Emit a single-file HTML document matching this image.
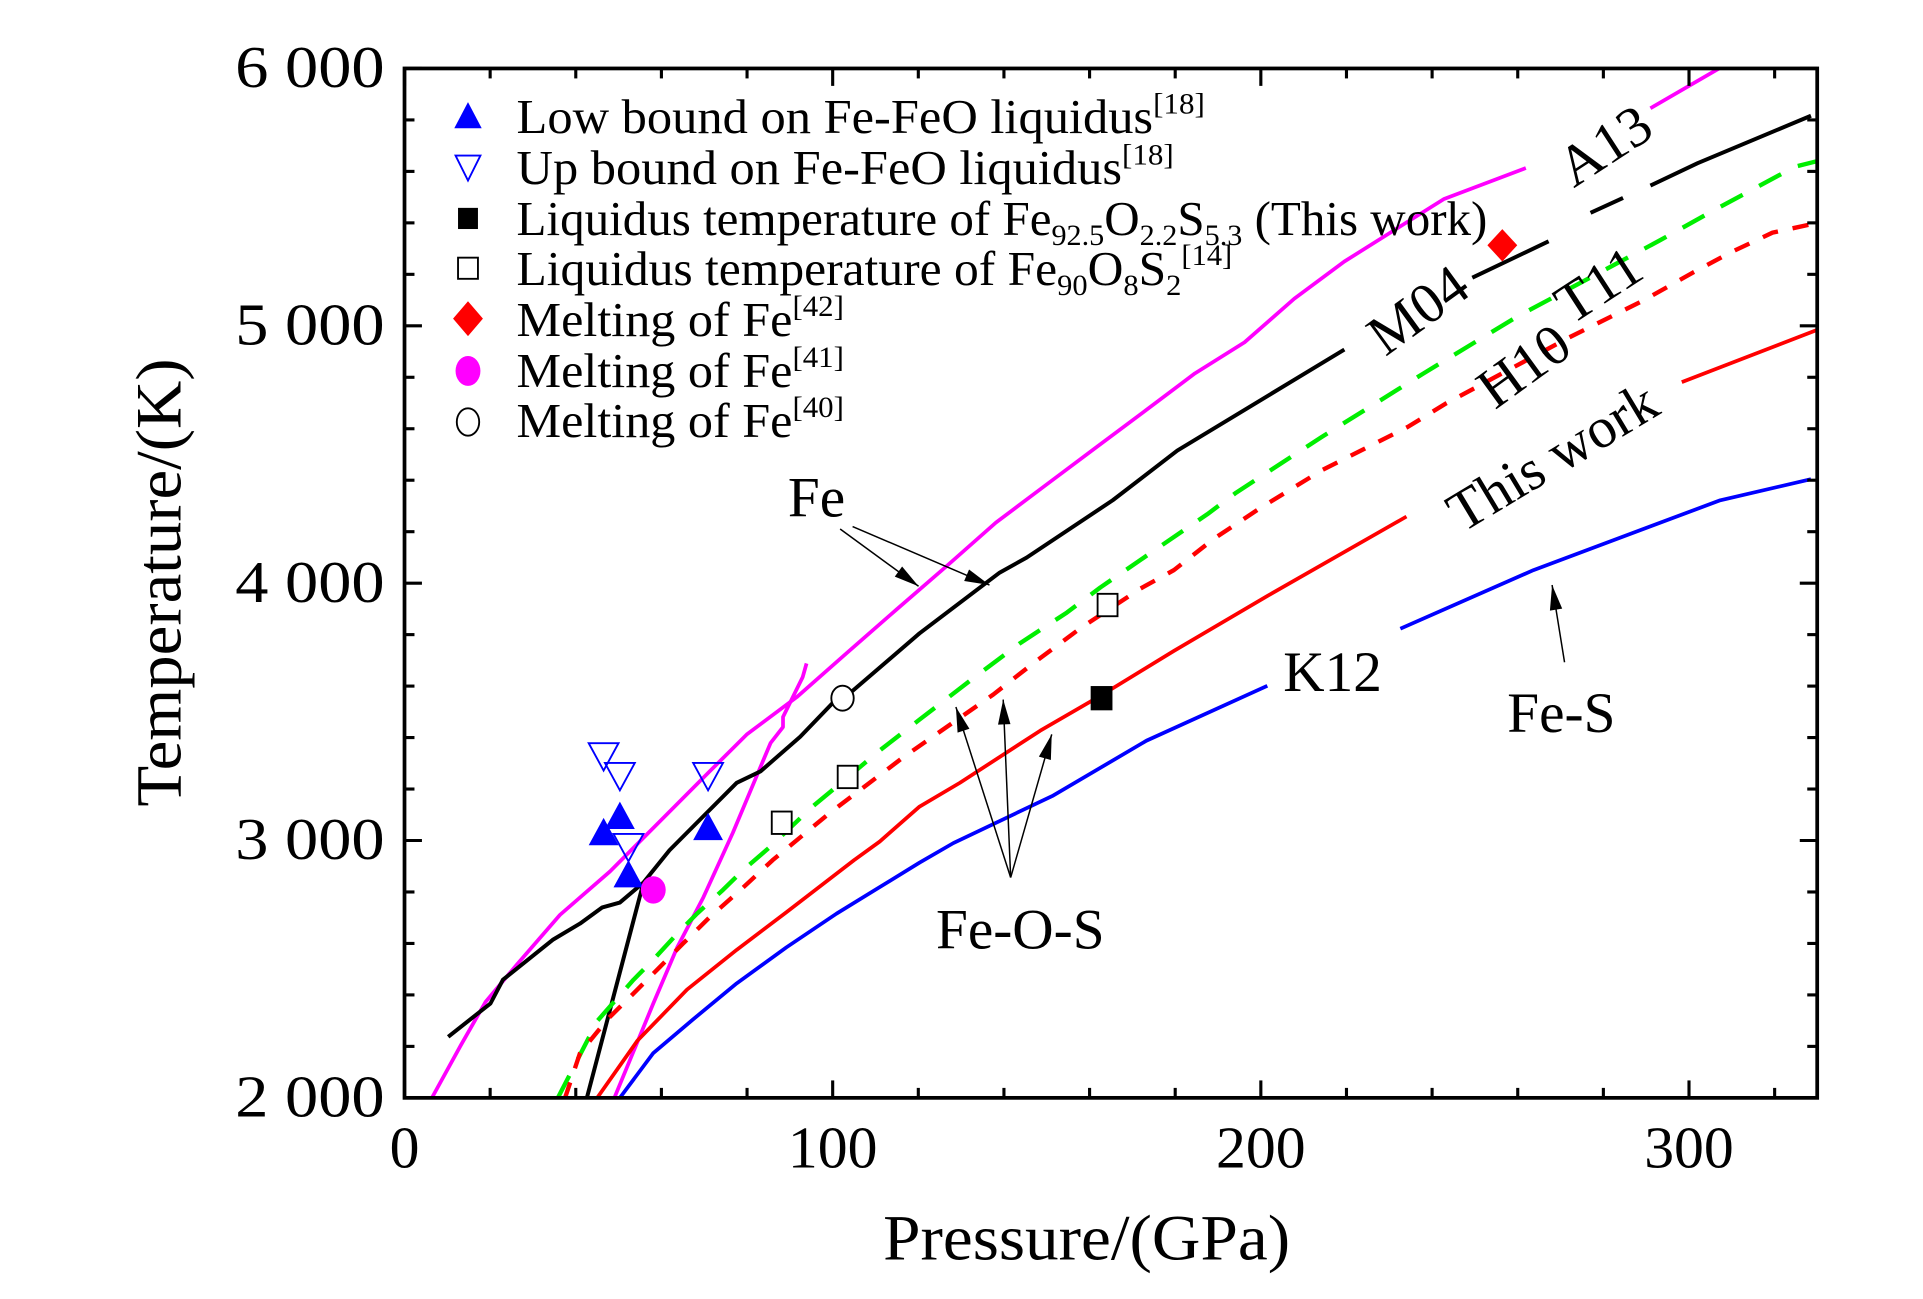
<!DOCTYPE html>
<html><head><meta charset="utf-8"><style>
html,body{margin:0;padding:0;background:#fff;}
svg{display:block;font-family:"Liberation Serif",serif;}
</style></head><body>
<svg id="chart" width="1923" height="1299" viewBox="0 0 1545 1043.6" preserveAspectRatio="none" xmlns="http://www.w3.org/2000/svg">
<rect x="0" y="0" width="1545" height="1044" fill="#fff"/>
<g id="plot"></g>
<g id="axes"></g>
<g id="legend">
 <polygon points="376,82 365,103 387,103" fill="#0000ff"/>
 <text x="415" y="107" font-size="39" textLength="553" lengthAdjust="spacingAndGlyphs">Low bound on Fe-FeO liquidus<tspan font-size="24" dy="-16">[18]</tspan></text>
 <polygon points="366,125 386,125 376,145" fill="none" stroke="#0000ff" stroke-width="1.5"/>
 <text x="415" y="148" font-size="39" textLength="528" lengthAdjust="spacingAndGlyphs">Up bound on Fe-FeO liquidus<tspan font-size="24" dy="-16">[18]</tspan></text>
 <rect x="368" y="167" width="16" height="17" fill="#000"/>
 <text x="415" y="189" font-size="39" textLength="780" lengthAdjust="spacingAndGlyphs">Liquidus temperature of Fe<tspan font-size="24" dy="8">92.5</tspan><tspan dy="-8">O</tspan><tspan font-size="24" dy="8">2.2</tspan><tspan dy="-8">S</tspan><tspan font-size="24" dy="8">5.3</tspan><tspan dy="-8"> (This work)</tspan></text>
 <rect x="368" y="207" width="16" height="17" fill="none" stroke="#000" stroke-width="1.5"/>
 <text x="415" y="229" font-size="39" textLength="575" lengthAdjust="spacingAndGlyphs">Liquidus temperature of Fe<tspan font-size="24" dy="8">90</tspan><tspan dy="-8">O</tspan><tspan font-size="24" dy="8">8</tspan><tspan dy="-8">S</tspan><tspan font-size="24" dy="8">2</tspan><tspan font-size="24" dy="-24">[14]</tspan></text>
 <polygon points="376,242 388,256 376,270 364,256" fill="#ff0000"/>
 <text x="415" y="270" font-size="39" textLength="263" lengthAdjust="spacingAndGlyphs">Melting of Fe<tspan font-size="24" dy="-16">[42]</tspan></text>
 <ellipse cx="376" cy="298" rx="10" ry="12" fill="#ff00ff"/>
 <text x="415" y="311" font-size="39" textLength="263" lengthAdjust="spacingAndGlyphs">Melting of Fe<tspan font-size="24" dy="-16">[41]</tspan></text>
 <ellipse cx="376" cy="339" rx="9" ry="11" fill="none" stroke="#000" stroke-width="1.5"/>
 <text x="415" y="351" font-size="39" textLength="263" lengthAdjust="spacingAndGlyphs">Melting of Fe<tspan font-size="24" dy="-16">[40]</tspan></text>
</g>
<g id="annot" font-size="46">
 <text x="633" y="415">Fe</text>
 <text x="752" y="762">Fe-O-S</text>
 <text x="1031" y="555">K12</text>
 <text x="1211" y="588">Fe-S</text>
 <text x="1290" y="132" text-anchor="middle" transform="rotate(-33 1290 118)">A13</text>
 <text x="1140" y="264" text-anchor="middle" transform="rotate(-36 1140 250)">M04</text>
 <text x="1285" y="244" text-anchor="middle" transform="rotate(-33 1285 230)">T11</text>
 <text x="1225" y="309" text-anchor="middle" transform="rotate(-36 1225 295)">H10</text>
 <text x="1248" y="382" text-anchor="middle" transform="rotate(-31 1248 368)">This work</text>
</g>
</svg>
<script>
// ---- data ----
const a13P=[6.4,13.1,18.9,26.2,36.3,48.0,59.6,71.2,79.9,91.6,103.2,114.8,126.5,138.1,149.7,161.3,173.0,184.6,196.2,207.8,219.5,231.1,242.7,261.9,null,291,307];
const a13T=[2000,2203,2372,2517,2711,2880,3074,3267,3412,3557,3727,3896,4065,4235,4380,4525,4670,4815,4936,5105,5250,5371,5492,5613,null,5845,6000];
const m04P=[10.2,20.1,23.0,34.6,41.0,46.2,50.3,55.8,61.9,68.9,77.6,83.1,92.4,100,102.3,120.3,139,145.3,165.4,180.5,219.5,null,249.4,267.2,null,277,284.6,null,291,302,328.5];
const m04T=[2237,2367,2459,2614,2677,2740,2759,2837,2962,3079,3224,3268,3403,3534,3548,3805,4041,4099,4322,4515,4908,null,5187,5328,null,5439,5497,null,5545,5632,5816];
const feoP=[42.6,55.8];
const feoT=[2000,2837];
const fe41LineP=[49.0,58.1,63.7,69.8,76.7,85.5,88.4,88.4,93.0,93.9];
const fe41LineT=[2000,2367,2585,2779,3030,3379,3441,3480,3635,3688];
const t11P=[35.8,45.1,53.5,58.1,63.7,68.3,74.4,79.1,85.5,95.3,100.9,111,120.3,132.8,143.6,154.7,162.5,176.5,187.5,194.2,214.2,238,259.6,293.3,305.8,324.7,330];
const t11T=[2000,2300,2459,2537,2638,2716,2808,2885,2977,3132,3209,3350,3470,3630,3765,3886,3983,4143,4268,4351,4568,4815,5033,5333,5449,5618,5640];
const h10P=[37.5,41,47.4,53.5,59.6,65.1,71.2,78.5,86,99.4,116.6,137.5,146.8,157.8,171.8,179.7,189,199.7,214.2,234.3,243.3,272,289.5,300.9,309.6,319.5,330];
const h10T=[2000,2174,2305,2406,2508,2600,2701,2808,2924,3108,3325,3567,3688,3824,3978,4051,4172,4290,4438,4607,4699,4955,5100,5207,5284,5362,5400];
const twP=[45,54.4,66,77.6,89.2,105,111,120.3,129.7,148.5,162.5,179.7,201.5,234,null,298.3,330];
const twT=[2000,2222,2421,2575,2721,2924,2996,3132,3224,3427,3562,3737,3950,4259,null,4781,4985];
const k12P=[50.3,58.1,67.4,77.6,89.2,100.9,120.3,128.2,151.5,173.3,201.5,null,232.6,263.7,307.3,328.5];
const k12T=[2000,2174,2305,2445,2585,2716,2914,2990,3175,3388,3601,null,3823,4051,4322,4404];
const lowBoundP=[46.5,50.3,52.3,70.9];
const lowBoundT=[3030,3093,2866,3050];
const upBoundP=[46.5,50.3,52.3,70.9];
const upBoundT=[3330,3253,2977,3253];
const fe90P=[88.1,103.5,164.2];
const fe90T=[3069,3247,3915];
const thisWorkPtP=[162.8];
const thisWorkPtT=[3553];
const fe42P=[256.4];const fe42T=[5313];
const fe41P=[58.1];const fe41T=[2808];
const fe40P=[102.3];const fe40T=[3553];
const xTicks=[0,100,200,300];
const yTicks=[2000,3000,4000,5000,6000];
const xTickLabels=["0","100","200","300"];
const yTickLabels=["2 000","3 000","4 000","5 000","6 000"];
// ---- scales ----
const X0=325,X1=1460,Y0=882,Y1=55;
function xS(p){return X0+p*3.44;}
function yS(t){return Y1+(6000-t)*0.20675;}
const NS="http://www.w3.org/2000/svg";
const plot=document.getElementById('plot');
const axes=document.getElementById('axes');
function mk(tag,attrs,parent){const e=document.createElementNS(NS,tag);for(const k in attrs)e.setAttribute(k,attrs[k]);parent.appendChild(e);return e;}
const clip=mk('clipPath',{id:'cp'},plot);mk('rect',{x:X0,y:Y1,width:X1-X0,height:Y0-Y1},clip);
const g=mk('g',{'clip-path':'url(#cp)'},plot);
function pathD(P,T){let d='',m=true;for(let i=0;i<P.length;i++){if(P[i]===null){m=true;continue;}d+=(m?'M':'L')+xS(P[i]).toFixed(1)+','+yS(T[i]).toFixed(1);m=false;}return d;}
function line(P,T,color,w,dash,name){const e=mk('path',{d:pathD(P,T),fill:'none',stroke:color,'stroke-width':w,'stroke-linejoin':'round'},g);if(dash)e.setAttribute('stroke-dasharray',dash);

}
line(a13P,a13T,'#ff00ff',3,null,'a13-fe-melting-curve');
line(fe41LineP,fe41LineT,'#ff00ff',3,null,'fe-feo-magenta-curve');
line(m04P,m04T,'#000',3.2,null,'m04-fe-melting-curve');
line(feoP,feoT,'#000',3.2,null,'fe-feo-black-curve');
line(t11P,t11T,'#00ee00',3.5,'20,15','t11-fe-o-s-curve');
line(h10P,h10T,'#ff0000',3.5,'13,12','h10-fe-o-s-curve');
line(twP,twT,'#ff0000',3,null,'this-work-fe-o-s-curve');
line(k12P,k12T,'#0000ff',3,null,'k12-fe-s-curve');
// markers
const mg=mk('g',{},plot);
function tri(P,T,up,name){for(let i=0;i<P.length;i++){const x=xS(P[i]),y=yS(T[i]);const pts=up?`${x},${y-12} ${x-12},${y+10} ${x+12},${y+10}`:`${x-12},${y-10} ${x+12},${y-10} ${x},${y+12}`;
const e=mk('polygon',{points:pts,fill:up?'#0000ff':'#fff','fill-opacity':up?1:0,stroke:'#0000ff','stroke-width':up?0:1.5},mg);

}}
tri(lowBoundP,lowBoundT,true,'low-bound-point');
tri(upBoundP,upBoundT,false,'up-bound-point');
function sq(P,T,fill,name){for(let i=0;i<P.length;i++){const e=mk('rect',{x:xS(P[i])-8,y:yS(T[i])-9,width:16,height:18,fill:fill,stroke:'#000','stroke-width':1.5},mg);

}}
sq(fe90P,fe90T,'#fff','fe90-liquidus-point');
sq(thisWorkPtP,thisWorkPtT,'#000','this-work-liquidus-point');
for(let i=0;i<fe42P.length;i++){const x=xS(fe42P[i]),y=yS(fe42T[i]);const e=mk('polygon',{points:`${x},${y-13} ${x+12},${y} ${x},${y+13} ${x-12},${y}`,fill:'#ff0000'},mg);

}
for(let i=0;i<fe41P.length;i++){const e=mk('ellipse',{cx:xS(fe41P[i]),cy:yS(fe41T[i]),rx:10,ry:11,fill:'#ff00ff'},mg);

}
for(let i=0;i<fe40P.length;i++){const e=mk('ellipse',{cx:xS(fe40P[i]),cy:yS(fe40T[i]),rx:9,ry:10,fill:'#fff',stroke:'#000','stroke-width':1.5},mg);

}
// arrows
const ag=mk('g',{stroke:'#000','stroke-width':1.2,fill:'#000'},plot);
function arrow(x1,y1,x2,y2,name){mk('line',{x1:x1,y1:y1,x2:x2,y2:y2},ag);const a=Math.atan2(y2-y1,x2-x1),L=20,W=5;
const e=mk('polygon',{points:`${x2},${y2} ${x2-L*Math.cos(a)+W*Math.sin(a)},${y2-L*Math.sin(a)-W*Math.cos(a)} ${x2-L*Math.cos(a)-W*Math.sin(a)},${y2-L*Math.sin(a)+W*Math.cos(a)}`,stroke:'none'},ag);

}
arrow(675,425,738,471,'fe-arrow-1');arrow(685,423,795,470,'fe-arrow-2');
arrow(812,705,768,568,'fe-o-s-arrow-1');arrow(812,705,806,562,'fe-o-s-arrow-2');arrow(812,705,845,590,'fe-o-s-arrow-3');
arrow(1257,532,1247,470,'fe-s-arrow');
// axes frame
const fr=mk('rect',{x:X0,y:Y1,width:X1-X0,height:Y0-Y1,fill:'none',stroke:'#000','stroke-width':3},axes);


for(let p=0;p<=330;p+=20){const x=xS(p),maj=(p%100===0),l=maj?14:8;
mk('line',{x1:x,y1:Y0,x2:x,y2:Y0-l,stroke:'#000','stroke-width':2.5},axes);
mk('line',{x1:x,y1:Y1,x2:x,y2:Y1+l,stroke:'#000','stroke-width':2.5},axes);}
for(let t=2000;t<=6000;t+=200){const y=yS(t),maj=(t%1000===0),l=maj?14:8;
mk('line',{x1:X0,y1:y,x2:X0+l,y2:y,stroke:'#000','stroke-width':2.5},axes);
mk('line',{x1:X1,y1:y,x2:X1-l,y2:y,stroke:'#000','stroke-width':2.5},axes);}
for(let i=0;i<xTicks.length;i++){const e=mk('text',{x:xS(xTicks[i]),y:938,'font-size':48,'text-anchor':'middle'},axes);e.textContent=xTickLabels[i];

}
for(let i=0;i<yTicks.length;i++){const e=mk('text',{x:309,y:yS(yTicks[i])+15,'font-size':48,'text-anchor':'end',textLength:120,lengthAdjust:'spacingAndGlyphs'},axes);e.textContent=yTickLabels[i];

}
const xt=mk('text',{x:873,y:1012,'font-size':52,'text-anchor':'middle',textLength:327,lengthAdjust:'spacingAndGlyphs'},axes);xt.textContent='Pressure/(GPa)';


const yt=mk('text',{x:0,y:0,'font-size':52,'text-anchor':'middle',textLength:360,lengthAdjust:'spacingAndGlyphs',transform:'translate(145,468) rotate(-90)'},axes);yt.textContent='Temperature/(K)';


</script>
</body></html>
